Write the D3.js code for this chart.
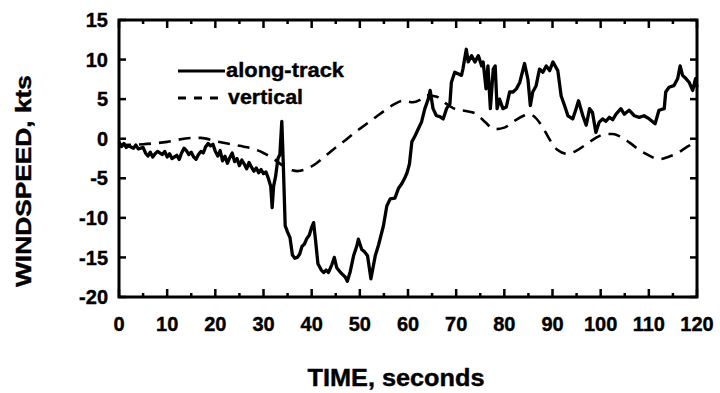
<!DOCTYPE html>
<html>
<head>
<meta charset="utf-8">
<script src="https://cdn.jsdelivr.net/npm/d3@7"></script>
<style>
  html, body { margin: 0; padding: 0; background: #fff; }
  svg { display: block; }
  text { font-family: "Liberation Sans", Arial, Helvetica, sans-serif; font-weight: bold; fill: #000; stroke: #000; stroke-width: 0.4px; }
</style>
</head>
<body>
<svg id="chart" width="720" height="393"></svg>
<script>
// Along-track wind speed (kts) vs time (s)
const alongTime = [
  0, 0.5, 1, 1.5, 2, 3, 3.5, 4, 5, 5.5, 6, 6.5, 7, 7.5, 8, 9, 9.5, 10, 10.5, 11,
  12, 12.5, 13, 13.5, 14, 14.5, 15, 15.5, 16, 16.5, 17, 17.5, 18, 18.5, 19, 19.5,
  20, 20.5, 21, 21.5, 22, 22.5, 23, 23.5, 24, 24.5, 25, 25.5, 26, 26.5, 27, 27.5,
  28, 28.5, 29, 29.5, 30, 30.5, 31, 31.5, 31.8, 32.1, 32.5, 33, 33.4, 33.8, 34.1,
  34.5, 35, 35.5, 36, 36.5, 37, 37.5, 38, 38.5, 39, 39.5, 40, 40.4, 40.8, 41.3,
  42, 42.5, 43, 43.5, 44.2, 44.7, 45.2, 46, 46.5, 47, 47.4, 48, 48.7, 49.4, 49.7,
  50.4, 51, 51.6, 52.3, 53.2, 53.9, 54.9, 55.6, 56.3, 57.3, 58, 58.7, 59.3, 59.8,
  60.3, 60.8, 61.5, 62.1, 62.8, 63.5, 64.2, 64.6, 65.2, 65.9, 66.6, 67.3, 68, 68.7,
  69, 69.7, 70.4, 71.1, 71.4, 72.1, 72.5, 73.2, 73.9, 74.6, 75.3, 75.6, 76.2, 76.6,
  77.1, 77.7, 78.1, 78.5, 79, 79.7, 80.4, 81.1, 81.8, 82.5, 83.2, 84.2, 84.9, 85.4,
  85.9, 86.6, 87.3, 88, 88.7, 89.4, 90.1, 91.1, 91.8, 92.5, 93.2, 94.2, 94.9, 95.4,
  96.3, 97, 97.7, 98.3, 99, 99.7, 100.4, 101.1, 101.8, 102.5, 103.2, 104.2, 104.9,
  105.9, 107, 108, 109, 110.1, 111.3, 112.1, 113.2, 113.5, 114.2, 115.2, 116, 116.5,
  117, 117.7, 118.4, 119.1, 119.7, 120
];
const alongSpeed = [
  -0.4, -1.0, -0.6, -1.1, -0.9, -1.2, -0.8, -1.3, -1.1, -1.8, -2.2, -1.7, -2.3, -1.9, -1.6, -2.0, -1.6, -2.3, -1.9, -2.5,
  -2.1, -2.6, -1.8, -1.2, -1.5, -2.0, -1.7, -2.3, -2.6, -2.0, -1.6, -1.8, -1.0, -0.6, -0.9, -0.7,
  -1.6, -2.2, -1.5, -2.8, -2.2, -3.1, -2.4, -1.8, -2.9, -2.5, -3.4, -2.7, -3.2, -3.8, -3.0, -3.6,
  -4.1, -3.7, -4.3, -3.9, -4.4, -4.2, -5.0, -6.0, -8.7, -6.0, -4.8, -2.5, -2.0, 2.2, -3.0,
  -11.0, -11.8, -12.5, -14.7, -15.1, -15.0, -14.6, -13.6, -13.3, -12.6, -12.2, -11.2, -10.6, -12.8, -15.8,
  -16.6, -16.9, -16.6, -16.9, -15.9, -15.0, -16.3, -16.9, -17.2, -17.5, -18.0, -16.8, -14.8, -13.5, -12.7,
  -14.0, -14.3, -14.8, -17.7, -14.8, -13.4, -11.0, -8.5, -7.6, -7.5, -6.3, -5.7, -5.0, -4.3,
  -3.2, -0.4, 0.4, 1.2, 2.1, 3.8, 5.0, 6.1, 3.8, 2.9, 2.8, 2.5, 3.8, 4.4,
  7.1, 8.4, 8.2, 8.0, 8.8, 11.3, 9.7, 10.5, 9.7, 10.5, 9.2, 9.7, 6.3, 9.2,
  3.8, 8.8, 9.2, 3.8, 5.0, 3.8, 4.0, 5.9, 5.9, 6.3, 7.1, 9.5, 7.5, 4.2,
  5.9, 6.7, 8.8, 8.4, 9.2, 8.6, 9.7, 8.6, 5.4, 4.2, 2.9, 2.5, 3.8, 4.8,
  2.9, 1.7, 3.8, 3.3, 0.8, 2.1, 2.5, 2.2, 2.7, 2.4, 3.1, 3.8, 3.1,
  3.6, 2.9, 2.7, 2.9, 2.5, 1.9, 3.6, 3.8, 5.9, 6.5, 6.7, 7.6, 9.2,
  8.0, 7.6, 7.1, 6.1, 7.6, 6.5
];

// Vertical wind speed (kts) vs time (s)
const vertTime = [
  0, 5, 10, 15, 17, 20, 25, 28, 30, 32, 34, 36, 37, 39, 41, 43, 45, 47, 49, 51,
  53, 55, 57, 59, 61, 62.5, 64, 66, 68, 70, 72, 74, 76, 78, 80, 82, 84, 85, 86,
  88, 89.5, 91, 93, 95, 97, 99, 101, 102.5, 104, 106, 108, 110, 112, 114, 116, 118, 120
];
const vertSpeed = [
  -0.8, -0.7, -0.4, 0.1, 0.1, -0.3, -0.9, -1.3, -1.8, -2.5, -3.4, -4.0, -4.1, -3.8, -3.1, -2.1, -1.1, -0.2, 0.8, 1.7,
  2.6, 3.5, 4.3, 4.8, 4.6, 4.9, 5.5, 5.3, 4.4, 3.7, 3.5, 3.2, 2.1, 1.2, 1.4, 2.2, 2.9, 3.1, 2.9,
  1.4, -0.2, -1.4, -1.9, -1.5, -0.7, 0.1, 0.6, 0.6, 0.3, -0.5, -1.4, -2.1, -2.6, -2.3, -1.8, -1.0, -0.4
];

const xTicks = [0, 10, 20, 30, 40, 50, 60, 70, 80, 90, 100, 110, 120];
const yTicks = [-20, -15, -10, -5, 0, 5, 10, 15];
const seriesNames = ["along-track", "vertical"];

const svg = d3.select("#chart");
const plotLeft = 119, plotRight = 697, plotTop = 20, plotBottom = 297;

const x = d3.scaleLinear().domain([0, 120]).range([plotLeft, plotRight]);
const y = d3.scaleLinear().domain([-20, 15]).range([plotBottom, plotTop]);

// Tick marks on all four sides, pointing inward
const tickG = svg.append("g").attr("stroke", "#000").attr("stroke-width", 2.5);
const minorX = d3.range(5, 120, 10);
xTicks.forEach(t => {
  tickG.append("line").attr("x1", x(t)).attr("x2", x(t)).attr("y1", plotBottom).attr("y2", plotBottom - 8);
  tickG.append("line").attr("x1", x(t)).attr("x2", x(t)).attr("y1", plotTop).attr("y2", plotTop + 8);
});
minorX.forEach(t => {
  tickG.append("line").attr("x1", x(t)).attr("x2", x(t)).attr("y1", plotBottom).attr("y2", plotBottom - 4);
  tickG.append("line").attr("x1", x(t)).attr("x2", x(t)).attr("y1", plotTop).attr("y2", plotTop + 4);
});
yTicks.forEach(v => {
  tickG.append("line").attr("x1", plotLeft).attr("x2", plotLeft + 7).attr("y1", y(v)).attr("y2", y(v));
  tickG.append("line").attr("x1", plotRight).attr("x2", plotRight - 7).attr("y1", y(v)).attr("y2", y(v));
});

// Tick labels
svg.append("g").selectAll("text").data(xTicks).join("text")
  .attr("x", d => x(d)).attr("y", 331)
  .attr("text-anchor", "middle").attr("font-size", 20)
  .text(d => d);
svg.append("g").selectAll("text").data(yTicks).join("text")
  .attr("x", 108).attr("y", d => y(d)).attr("dy", "0.36em")
  .attr("text-anchor", "end").attr("font-size", 20)
  .text(d => d);

// Series lines
const alongData = alongTime.map((t, i) => [t, alongSpeed[i]]);
const vertData = vertTime.map((t, i) => [t, vertSpeed[i]]);

svg.append("path")
  .datum(vertData)
  .attr("fill", "none").attr("stroke", "#000").attr("stroke-width", 2.6)
  .attr("stroke-dasharray", "12,8")
  .attr("d", d3.line().x(d => x(d[0])).y(d => y(d[1])).curve(d3.curveMonotoneX));

svg.append("path")
  .datum(alongData)
  .attr("fill", "none").attr("stroke", "#000").attr("stroke-width", 3.3)
  .attr("stroke-linejoin", "round")
  .attr("d", d3.line().x(d => x(d[0])).y(d => y(d[1])));

// Frame
svg.append("rect")
  .attr("x", plotLeft).attr("y", plotTop).attr("width", plotRight - plotLeft).attr("height", plotBottom - plotTop)
  .attr("fill", "none").attr("stroke", "#000").attr("stroke-width", 3);

// Legend
const legend = svg.append("g");
legend.append("line").attr("x1", 178).attr("x2", 225).attr("y1", 71).attr("y2", 71)
  .attr("stroke", "#000").attr("stroke-width", 2.8);
legend.append("text").attr("x", 226).attr("y", 77).attr("font-size", 20)
  .attr("textLength", 118).attr("lengthAdjust", "spacingAndGlyphs").text(seriesNames[0]);
legend.append("line").attr("x1", 178).attr("x2", 226).attr("y1", 98).attr("y2", 98)
  .attr("stroke", "#000").attr("stroke-width", 2.8).attr("stroke-dasharray", "8,8");
legend.append("text").attr("x", 228).attr("y", 104).attr("font-size", 20)
  .attr("textLength", 75).attr("lengthAdjust", "spacingAndGlyphs").text(seriesNames[1]);

// Axis titles
svg.append("text")
  .attr("x", 396).attr("y", 386).attr("text-anchor", "middle").attr("font-size", 23)
  .attr("textLength", 177).attr("lengthAdjust", "spacingAndGlyphs")
  .text("TIME, seconds");
svg.append("text")
  .attr("transform", "translate(31,181) rotate(-90)")
  .attr("text-anchor", "middle").attr("font-size", 22)
  .attr("textLength", 212).attr("lengthAdjust", "spacingAndGlyphs")
  .text("WINDSPEED, kts");
</script>
</body>
</html>
